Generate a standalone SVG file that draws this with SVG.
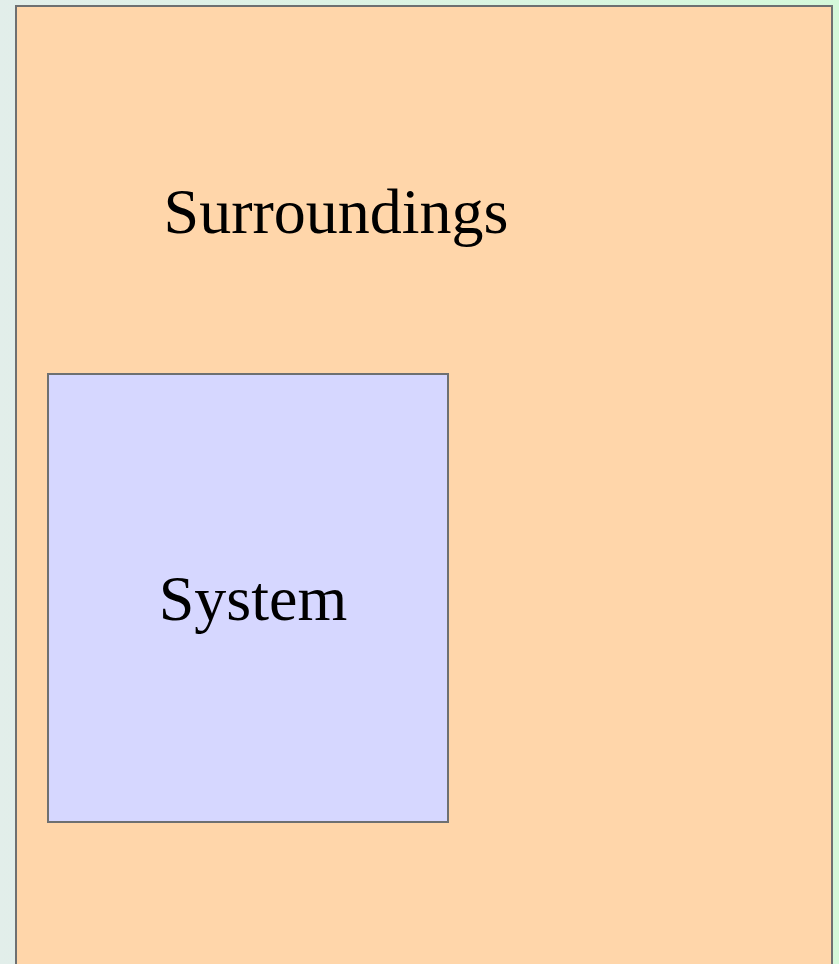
<svg xmlns="http://www.w3.org/2000/svg" width="839" height="964" viewBox="0 0 839 964">
<defs>
<linearGradient id="bg" x1="0" y1="0" x2="1" y2="0">
<stop offset="0" stop-color="#e2eeea"/>
<stop offset="1" stop-color="#d5f8da"/>
</linearGradient>
<style>
.box{stroke:#6e7071;stroke-width:2}
.lbl{font-family:"Liberation Serif","Times New Roman",serif;font-size:64px;fill:#000;text-anchor:middle}
</style>
</defs>
<rect x="0" y="0" width="839" height="964" fill="url(#bg)"/>
<g id="surroundings">
<rect class="box" x="16" y="6" width="816" height="970" fill="#ffd6aa"/>
<text class="lbl" x="336" y="233">Surroundings</text>
</g>
<g id="system">
<rect class="box" x="48" y="374" width="400" height="448" fill="#d6d7ff"/>
<text class="lbl" x="253" y="620">System</text>
</g>
<g id="connectors"/>
</svg>
